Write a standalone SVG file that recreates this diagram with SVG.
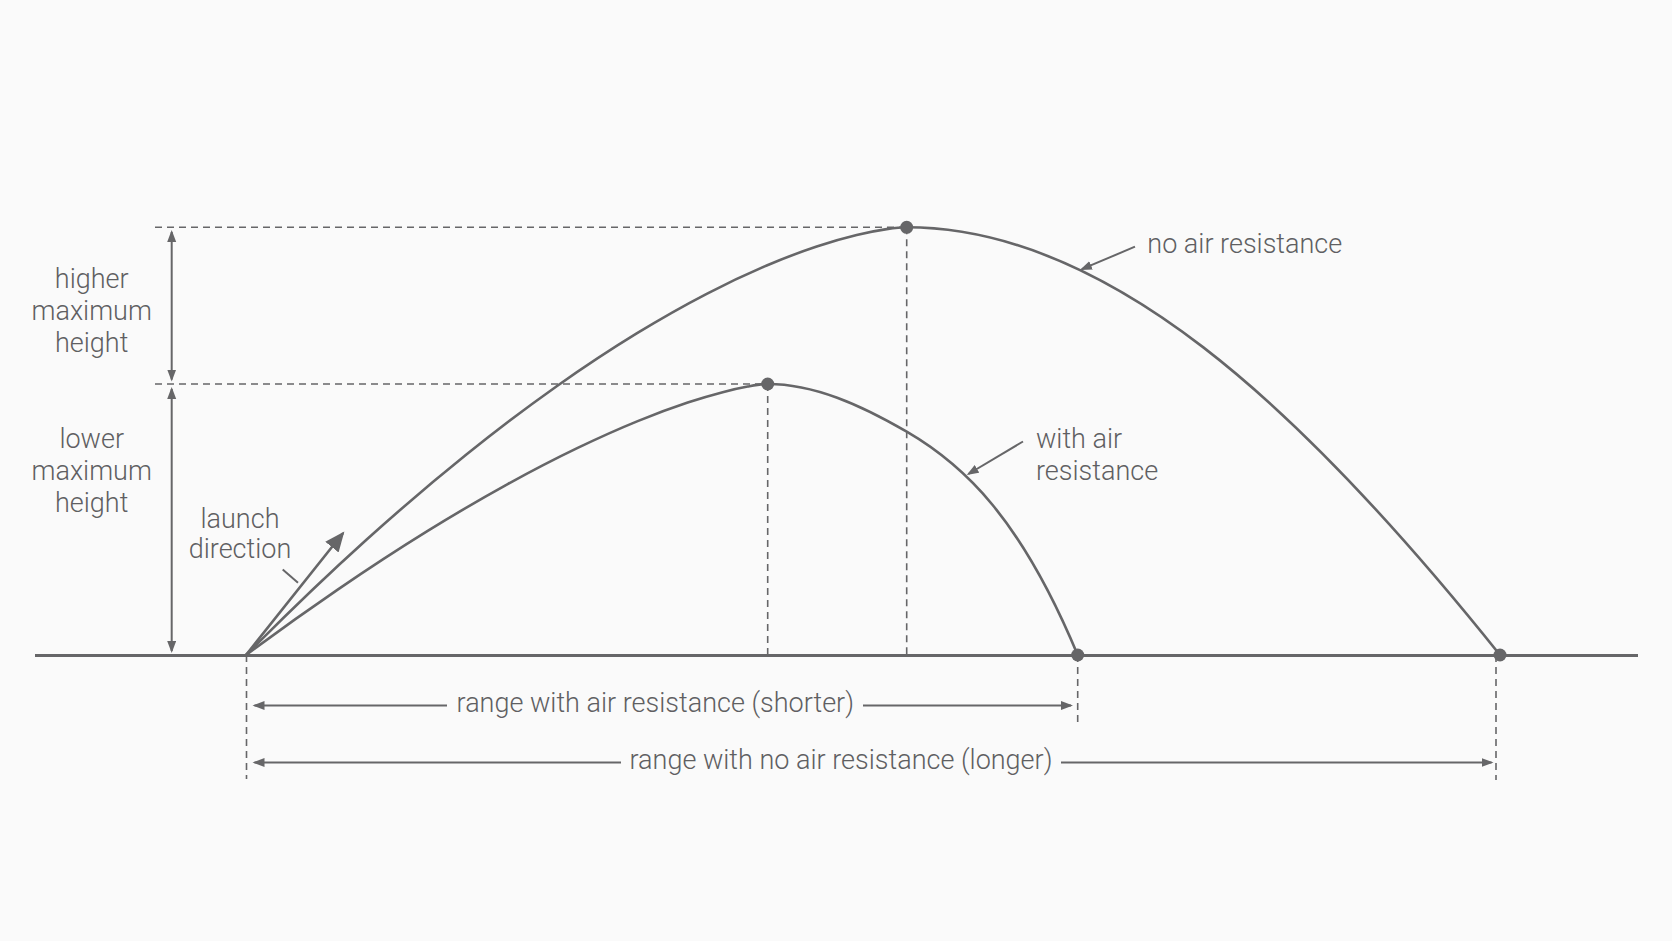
<svg xmlns="http://www.w3.org/2000/svg" width="1672" height="941" viewBox="0 0 1672 941">
  <style>
    .txt { font-family: Roboto, "Liberation Sans", sans-serif; font-size: 27px; font-weight: 300; fill: #5f5f62; }
    .mid { text-anchor: middle; }
    .curve { fill: none; stroke: #666668; stroke-width: 2.6; stroke-linecap: round; stroke-linejoin: round; }
    .ground { fill: none; stroke: #666668; stroke-width: 3; }
    .dash { fill: none; stroke: #666668; stroke-width: 1.6; stroke-dasharray: 7 5; }
    .dim { fill: none; stroke: #666668; stroke-width: 2; }
    .lead { fill: none; stroke: #666668; stroke-width: 2; }
    .dot { fill: #666668; }
  </style>
  <defs>
    <marker id="ah" markerUnits="userSpaceOnUse" markerWidth="13" markerHeight="10" refX="10" refY="4.5" orient="auto-start-reverse">
      <path d="M0,0 L12,4.5 L0,9 z" fill="#666668"/>
    </marker>
    <marker id="ahBig" markerUnits="userSpaceOnUse" markerWidth="22" markerHeight="18" refX="17" refY="8.5" orient="auto">
      <path d="M0,0 L20,8.5 L0,17 z" fill="#666668"/>
    </marker>
  </defs>

  <rect x="0" y="0" width="1672" height="941" fill="#fafafa"/>

  <g id="guides">
    <line class="dash" x1="155" y1="227.3" x2="906.7" y2="227.3"/>
    <line class="dash" x1="155" y1="384" x2="767.7" y2="384"/>
    <line class="dash" x1="906.7" y1="227.3" x2="906.7" y2="655"/>
    <line class="dash" x1="767.7" y1="384" x2="767.7" y2="655"/>
    <line class="dash" x1="246.5" y1="655" x2="246.5" y2="779"/>
    <line class="dash" x1="1077.7" y1="655" x2="1077.7" y2="727"/>
    <line class="dash" x1="1496" y1="655" x2="1496" y2="780"/>
  </g>

  <g id="ground">
    <line class="ground" x1="35" y1="655.5" x2="1638" y2="655.5"/>
  </g>

  <g id="trajectory-no-air">
    <path class="curve" d="M246,655 C286.23,614.49 326.47,575.71 366.7,539.5 C400.03,509.5 433.37,481.06 466.7,454.3 C496.7,430.21 526.7,407.38 556.7,386.2 C583.37,367.37 610.03,349.69 636.7,333.4 C660.03,319.15 683.37,305.86 706.7,293.8 C726.7,283.46 746.7,273.99 766.7,265.5 C783.37,258.42 800.03,252.04 816.7,246.5 C830.03,242.07 843.37,238.19 856.7,235 C866.7,232.6 876.7,230.59 886.7,229.15 C893.37,228.19 900.03,227.3 906.7,227.3 C1106.7,227.3 1300,405 1500,655"/>
  </g>

  <g id="trajectory-with-air">
    <path class="curve" d="M246,655 C276.57,632.29 307.13,610.51 337.7,589.6 C367.7,569.08 397.7,549.44 427.7,530.9 C454.37,514.42 481.03,498.79 507.7,484.1 C531.03,471.24 554.37,459.12 577.7,447.9 C597.7,438.28 617.7,429.26 637.7,421.1 C654.37,414.3 671.03,408.06 687.7,402.53 C699.37,398.66 711.03,395.16 722.7,392.14 C731.03,389.98 739.37,388.07 747.7,386.55 C754.37,385.34 761.03,384 767.7,384 C814,384 860.4,404.8 906.7,431.7 C963.7,464.8 1020.7,518.2 1077.7,655"/>
  </g>

  <g id="points">
    <circle class="dot" cx="906.7" cy="227.3" r="6.5"/>
    <circle class="dot" cx="767.7" cy="384" r="6.5"/>
    <circle class="dot" cx="1077.7" cy="655" r="6.5"/>
    <circle class="dot" cx="1500" cy="655" r="6.5"/>
  </g>

  <g id="connectors">
    <line class="curve" x1="246" y1="655" x2="342.5" y2="533.8" marker-end="url(#ahBig)"/>
    <line class="lead" x1="282.7" y1="569.5" x2="298" y2="582.7"/>
    <line class="dim" x1="171.7" y1="232" x2="171.7" y2="379.5" marker-start="url(#ah)" marker-end="url(#ah)"/>
    <line class="dim" x1="171.7" y1="389" x2="171.7" y2="651" marker-start="url(#ah)" marker-end="url(#ah)"/>
    <line class="dim" x1="254.5" y1="705.5" x2="447" y2="705.5" marker-start="url(#ah)"/>
    <line class="dim" x1="863" y1="705.5" x2="1071" y2="705.5" marker-end="url(#ah)"/>
    <line class="dim" x1="254.5" y1="762.5" x2="621" y2="762.5" marker-start="url(#ah)"/>
    <line class="dim" x1="1061" y1="762.5" x2="1491.5" y2="762.5" marker-end="url(#ah)"/>
    <line class="lead" x1="1135" y1="246.7" x2="1081.8" y2="269.2" marker-end="url(#ah)"/>
    <line class="lead" x1="1023" y1="441.5" x2="968.4" y2="474" marker-end="url(#ah)"/>
  </g>

  <g id="label-higher">
    <text class="txt mid" x="91.7" y="288">higher</text>
    <text class="txt mid" x="91.7" y="320">maximum</text>
    <text class="txt mid" x="91.7" y="352">height</text>
  </g>
  <g id="label-lower">
    <text class="txt mid" x="91.7" y="448">lower</text>
    <text class="txt mid" x="91.7" y="480">maximum</text>
    <text class="txt mid" x="91.7" y="512">height</text>
  </g>
  <g id="label-launch">
    <text class="txt mid" x="240" y="528">launch</text>
    <text class="txt mid" x="240" y="558">direction</text>
  </g>
  <g id="label-no-air">
    <text class="txt" x="1147.3" y="253">no air resistance</text>
  </g>
  <g id="label-with-air">
    <text class="txt" x="1036" y="448">with air</text>
    <text class="txt" x="1036" y="479.5">resistance</text>
  </g>
  <g id="label-range-short">
    <text class="txt mid" x="655.3" y="712">range with air resistance (shorter)</text>
  </g>
  <g id="label-range-long">
    <text class="txt mid" x="841" y="769">range with no air resistance (longer)</text>
  </g>
</svg>
